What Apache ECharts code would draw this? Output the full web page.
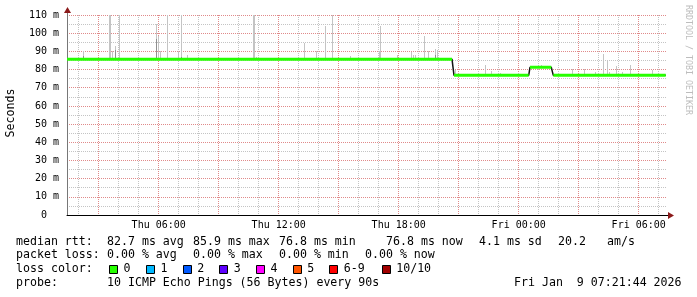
<!DOCTYPE html>
<html><head><meta charset="utf-8">
<script src="https://cdn.jsdelivr.net/npm/echarts@6/dist/echarts.min.js"></script>
<style>html,body{margin:0;padding:0;background:#fff}#c{width:697px;height:297px}</style>
</head><body><div id="c"></div>
<script>
// x values are hours since Thu 00:00
const xMin = 1.415, xMax = 31.415;
const labelHours = [6, 12, 18, 24, 30];
const labelTexts = ['Thu 06:00', 'Thu 12:00', 'Thu 18:00', 'Fri 00:00', 'Fri 06:00'];
const majorGridHours = [3, 6, 9, 12, 15, 18, 21, 24, 27, 30];
const minorGridHours = [2, 4, 5, 7, 8, 10, 11, 13, 14, 16, 17, 19, 20, 22, 23, 25, 26, 28, 29, 31];
const yMin = 0, yMax = 110, yStep = 10;

// median rtt (ms) plateaus
const medianHours  = [1.415, 20.665, 20.765, 24.50, 24.565, 25.63, 25.73, 31.35];
const medianValues = [85.7,  85.7,   76.8,   76.8,  81.2,   81.2,  76.8,  76.8];

// smoke spikes: hour, bottom, top (light grey)
const smokeHours   = [2.23, 3.53, 3.58, 3.68, 3.815, 4.03, 5.88, 5.98, 6.065, 6.43, 6.98, 7.115, 7.43, 10.73, 10.78, 10.90,
                      13.28, 13.88, 14.35, 14.68, 15.60, 17.04, 17.08, 17.93, 18.63, 18.73, 18.83, 19.28, 19.48, 19.865, 19.93,
                      20.83, 22.34, 22.65, 23.115, 23.98, 25.15, 26.70, 27.28, 27.85, 28.23, 28.415, 28.515, 28.865, 29.18, 29.565, 30.70];
const smokeBottoms = [85.2, 85.2, 85.2, 85.2, 85.2, 85.2, 85.2, 85.2, 85.2, 85.2, 85.2, 85.2, 85.2, 85.2, 85.2, 85.2,
                      85.2, 85.2, 85.2, 85.2, 85.2, 85.2, 85.2, 85.2, 85.2, 85.2, 85.2, 85.2, 85.2, 85.2, 85.2,
                      76.3, 76.3, 76.3, 76.3, 76.3, 80.7, 76.3, 76.3, 76.3, 76.3, 76.3, 76.3, 76.3, 76.3, 76.3, 76.3];
const smokeTops    = [90, 110, 110, 90, 93, 110, 105, 98.5, 90, 110, 90, 110, 88, 110, 110, 87,
                      94.5, 90, 104, 110, 87.5, 90, 104, 88, 89.7, 88, 88, 98.3, 90, 91.5, 91,
                      80, 82.3, 79, 78, 78, 82.5, 80.5, 80.5, 78.7, 88.7, 85, 78.7, 82, 78.5, 82.7, 80];
// darker inner smoke: hour, bottom, top
const darkHours   = [2.23, 3.815, 5.88, 7.115, 19.865];
const darkBottoms = [85.2, 85.2, 85.2, 85.2, 85.2];
const darkTops    = [87.5, 91, 97, 87, 88];

// legend texts
const legendLabels = ['median rtt:', 'packet loss:', 'loss color:', 'probe:'];
const rttTexts  = ['82.7 ms avg', '85.9 ms max', '76.8 ms min', '76.8 ms now', '4.1 ms sd', '20.2', 'am/s'];
const lossTexts = ['0.00 % avg', '0.00 % max', '0.00 % min', '0.00 % now'];
const lossColorLabels = ['0', '1', '2', '3', '4', '5', '6-9', '10/10'];
const lossColors = ['#26ff00', '#00b8ff', '#0059ff', '#5e00ff', '#ff00ff', '#ff5500', '#ff0000', '#a10000'];
const probeText = '10 ICMP Echo Pings (56 Bytes) every 90s';
const dateText = 'Fri Jan  9 07:21:44 2026';
const yTitle = 'Seconds';
const watermark = 'RRDTOOL / TOBI OETIKER';

const MONO = "'DejaVu Sans Mono', monospace";
const RED_GRID = '#e08a8a', GREY_GRID = '#c4c4c4';

const chart = echarts.init(document.getElementById('c'), null, {renderer: 'canvas'});

const greenData = [];
for (let i = 0; i < medianHours.length; i += 2) {
  if (i > 0) greenData.push([(medianHours[i - 1] + medianHours[i]) / 2, '-']);
  greenData.push([medianHours[i], medianValues[i]]);
  greenData.push([medianHours[i + 1], medianValues[i + 1]]);
}
const blackData = medianHours.map((h, i) => [h, medianValues[i]]);
const smokeData = smokeHours.map((h, i) => [h, smokeBottoms[i], smokeTops[i]]);
const darkData = darkHours.map((h, i) => [h, darkBottoms[i], darkTops[i]]);

function smokeRender(color) {
  return function (params, api) {
    const h = api.value(0);
    const p1 = api.coord([h, api.value(1)]);
    const p2 = api.coord([h, api.value(2)]);
    return {type: 'rect', shape: {x: Math.floor(p1[0]), y: Math.round(p2[1]), width: 1, height: Math.round(p1[1]) - Math.round(p2[1])},
      style: {fill: color}};
  };
}

function gridAxis(values, color) {
  return {
    type: 'value', min: xMin, max: xMax, position: 'bottom',
    axisLine: {show: false}, axisLabel: {show: false},
    axisTick: {show: false, customValues: values},
    splitLine: {show: true, lineStyle: {color: color, type: 'dotted', width: 1}}
  };
}

const option = {
  backgroundColor: '#ffffff',
  animation: false,
  grid: {left: 67, right: 30, top: 15, bottom: 82, containLabel: false},
  xAxis: [{
    type: 'value', min: xMin, max: xMax, position: 'bottom',
    axisLine: {show: true, lineStyle: {color: '#000', width: 1}},
    axisTick: {show: false, customValues: labelHours},
    axisLabel: {show: true, customValues: labelHours, margin: 5, color: '#000', fontFamily: MONO, fontSize: 10,
      formatter: v => labelTexts[labelHours.indexOf(Math.round(v))] || ''},
    splitLine: {show: false}
  }, gridAxis(minorGridHours, GREY_GRID), gridAxis(majorGridHours, RED_GRID)],
  yAxis: {
    type: 'value', min: yMin, max: yMax, interval: yStep,
    axisLine: {show: true, lineStyle: {color: '#777', width: 1}},
    axisTick: {show: false},
    axisLabel: {margin: 8, color: '#000', fontFamily: MONO, fontSize: 10,
      formatter: v => v === 0 ? '0\u00a0\u00a0' : v + ' m'},
    splitLine: {show: true, lineStyle: {color: RED_GRID, type: 'dotted', width: 1}},
    minorTick: {show: false, splitNumber: 2},
    minorSplitLine: {show: true, lineStyle: {color: GREY_GRID, type: 'dotted', width: 1}}
  },
  series: [
    {type: 'custom', renderItem: smokeRender('#c4c4c4'), data: smokeData, z: 2, clip: true},
    {type: 'custom', renderItem: smokeRender('#8f8f8f'), data: darkData, z: 3, clip: true},
    {type: 'line', data: blackData, symbol: 'none', lineStyle: {color: '#111', width: 1.5}, z: 4},
    {type: 'line', data: greenData, symbol: 'none', connectNulls: false, lineStyle: {color: '#26ff00', width: 3}, z: 5}
  ]
};
chart.setOption(option);

// decorations: arrows, texts
const br = chart.convertToPixel({gridIndex: 0}, [xMax, yMin]);
const tl = chart.convertToPixel({gridIndex: 0}, [xMin, yMax]);
const ARROW = '#8b1a1a';
const g = [];
g.push({type: 'line', shape: {x1: br[0], y1: Math.round(br[1]) + 0.5, x2: br[0] + 3, y2: Math.round(br[1]) + 0.5}, style: {stroke: '#000', lineWidth: 1}});
g.push({type: 'polygon', shape: {points: [[br[0] + 1, br[1] - 3], [br[0] + 7, br[1] + 0.5], [br[0] + 1, br[1] + 4]]}, style: {fill: ARROW}});
g.push({type: 'line', shape: {x1: Math.round(tl[0]) + 0.5, y1: tl[1], x2: Math.round(tl[0]) + 0.5, y2: tl[1] - 4}, style: {stroke: '#777', lineWidth: 1}});
g.push({type: 'polygon', shape: {points: [[tl[0] - 3, tl[1] - 2], [tl[0] + 0.5, tl[1] - 8], [tl[0] + 4, tl[1] - 2]]}, style: {fill: ARROW}});

const txt = (x, y, s, extra) => Object.assign({type: 'text', x: x, y: y,
  style: {text: s, fill: '#000', font: '11.6px ' + MONO, textVerticalAlign: 'middle'}}, extra || {});

g.push({type: 'text', x: 10.5, y: 113, rotation: Math.PI / 2,
  style: {text: yTitle, fill: '#000', font: '11.6px ' + MONO, textAlign: 'center', textVerticalAlign: 'middle'}});
g.push({type: 'text', x: 688, y: 60, rotation: -Math.PI / 2,
  style: {text: watermark, fill: '#bdbdbd', font: '8.3px ' + MONO, textAlign: 'center', textVerticalAlign: 'middle'}});

const rowY = [241.7, 255.2, 269.2, 282.7];
legendLabels.forEach((s, i) => g.push(txt(16, rowY[i], s)));
const rttX = [107, 193, 279, 386, 479, 558, 607];
rttTexts.forEach((s, i) => g.push(txt(rttX[i], rowY[0], s)));
const lossX = [107, 193, 279, 365];
lossTexts.forEach((s, i) => g.push(txt(lossX[i], rowY[1], s)));
const boxX = [109, 146, 182.7, 219.3, 256, 292.7, 329.3, 381.7];
lossColorLabels.forEach((s, i) => {
  const bx = boxX[i];
  g.push({type: 'rect', shape: {x: Math.round(bx) + 0.5, y: 265.5, width: 8, height: 8}, style: {fill: lossColors[i], stroke: '#000', lineWidth: 1}});
  g.push(txt(bx + 14.5, rowY[2], s));
});
g.push(txt(107, rowY[3], probeText));
g.push(txt(514, rowY[3], dateText));

chart.setOption({graphic: g});
</script>
</body></html>
